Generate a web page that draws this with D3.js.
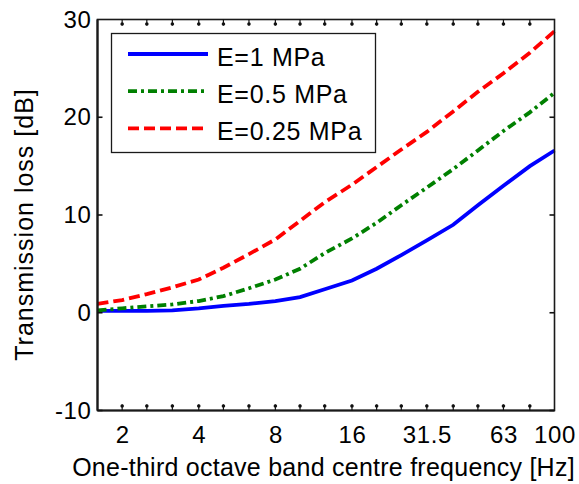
<!DOCTYPE html>
<html>
<head>
<meta charset="utf-8">
<script src="https://cdn.jsdelivr.net/npm/d3@7"></script>
<style>
  body { margin: 0; background: #fff; }
  text { font-family: "Liberation Sans", Arial, sans-serif; fill: #000; }
</style>
</head>
<body>
<div id="chart"></div>
<script>
// one-third octave band centre frequencies [Hz]
const bands = [1.6, 2, 2.5, 3.15, 4, 5, 6.3, 8, 10, 12.5, 16, 20, 25, 31.5, 40, 50, 63, 80, 100];
const xLabelTicks = [2, 4, 8, 16, 31.5, 63, 100];
const yTicks = [-10, 0, 10, 20, 30];

// transmission loss [dB]
const tlE1 = [0.2, 0.2, 0.2, 0.25, 0.45, 0.7, 0.9, 1.2, 1.6, 2.4, 3.3, 4.5, 5.9, 7.4, 9.0, 11.0, 13.0, 15.0, 16.6];
const tlE05 = [0.25, 0.45, 0.65, 0.85, 1.2, 1.7, 2.5, 3.4, 4.5, 6.1, 7.6, 9.2, 11.0, 12.8, 14.7, 16.6, 18.6, 20.5, 22.5];
const tlE025 = [0.9, 1.3, 1.9, 2.6, 3.4, 4.6, 6.0, 7.5, 9.4, 11.3, 13.1, 14.9, 16.7, 18.5, 20.6, 22.6, 24.5, 26.6, 28.8];

const seriesNames = ["E=1 MPa", "E=0.5 MPa", "E=0.25 MPa"];

const width = 579, height = 484;
const plotL = 97.5, plotR = 554.5, plotT = 19.5, plotB = 410.5;

const svg = d3.select("#chart").append("svg")
    .attr("width", width)
    .attr("height", height);

const x = d3.scaleLog().domain([1.6, 100]).range([plotL, plotR]);
const y = d3.scaleLinear().domain([-10, 30]).range([plotB, plotT]);

const series = [
    { name: seriesNames[0], values: tlE1, color: "#0000ff", dash: null },
    { name: seriesNames[1], values: tlE05, color: "#008000", dash: "9,4,3,4" },
    { name: seriesNames[2], values: tlE025, color: "#ff0000", dash: "11,5" }
];

const line = d3.line()
    .x((d, i) => x(bands[i]))
    .y(d => y(d));

// curves
svg.append("g").selectAll("path")
    .data(series)
    .enter().append("path")
    .attr("d", d => line(d.values))
    .attr("fill", "none")
    .attr("stroke", d => d.color)
    .attr("stroke-width", 3.8)
    .attr("stroke-dasharray", d => d.dash);

// bottom axis labels
const gx = svg.append("g")
    .attr("transform", `translate(0,${plotB})`)
    .call(d3.axisBottom(x)
        .tickValues(xLabelTicks)
        .tickFormat(d => String(d))
        .tickSize(0)
        .tickPadding(15));
gx.select(".domain").remove();
gx.selectAll(".tick text")
    .style("font-size", "24px")
    .style("letter-spacing", "0.6px");

// left axis labels
const gy = svg.append("g")
    .attr("transform", `translate(${plotL},0)`)
    .call(d3.axisLeft(y)
        .tickValues(yTicks)
        .tickFormat(d => String(d))
        .tickSize(0)
        .tickPadding(6));
gy.select(".domain").remove();
gy.selectAll(".tick text")
    .style("font-size", "24px")
    .style("letter-spacing", "0.6px");

// axes box
svg.append("rect")
    .attr("x", plotL).attr("y", plotT)
    .attr("width", plotR - plotL).attr("height", plotB - plotT)
    .attr("fill", "none")
    .attr("stroke", "#1a1a1a")
    .attr("stroke-width", 1.6);
svg.append("line")
    .attr("x1", plotL).attr("x2", plotL).attr("y1", plotT).attr("y2", plotB)
    .attr("stroke", "#1a1a1a").attr("stroke-width", 2.2);
svg.append("line")
    .attr("x1", plotL).attr("x2", plotR).attr("y1", plotB).attr("y2", plotB)
    .attr("stroke", "#1a1a1a").attr("stroke-width", 2.2);

// band tick marks (inward, top and bottom)
const ticks = svg.append("g").attr("fill", "#111").attr("stroke", "#111");
[[plotB, -1], [plotT, 1]].forEach(([yy, dir]) => {
    ticks.selectAll(null)
        .data(bands.slice(1, -1))
        .enter().append("line")
        .attr("x1", d => x(d)).attr("x2", d => x(d))
        .attr("y1", yy).attr("y2", yy + dir * 6)
        .attr("stroke-width", 1.2);
    ticks.selectAll(null)
        .data(bands.slice(1, -1))
        .enter().append("circle")
        .attr("cx", d => x(d))
        .attr("cy", yy + dir * 4.5)
        .attr("r", 1.8)
        .attr("stroke", "none");
});

// value ticks (inward, left and right)
[[plotL, 1], [plotR, -1]].forEach(([xx, dir]) => {
    ticks.selectAll(null)
        .data(yTicks.slice(0, -1))
        .enter().append("line")
        .attr("x1", xx).attr("x2", xx + dir * 5)
        .attr("y1", d => y(d)).attr("y2", d => y(d))
        .attr("stroke-width", 1.6);
});

// axis titles
svg.append("text")
    .attr("x", 323.5)
    .attr("y", 476)
    .attr("text-anchor", "middle")
    .style("font-size", "25px")
    .style("letter-spacing", "0.25px")
    .text("One-third octave band centre frequency [Hz]");

svg.append("text")
    .attr("transform", "translate(33,224.5) rotate(-90)")
    .attr("text-anchor", "middle")
    .style("font-size", "25px")
    .style("letter-spacing", "1px")
    .text("Transmission loss [dB]");

// legend
const legend = svg.append("g");
legend.append("rect")
    .attr("x", 111.5).attr("y", 33.5)
    .attr("width", 264).attr("height", 119)
    .attr("fill", "#fff")
    .attr("stroke", "#1a1a1a")
    .attr("stroke-width", 1.3);

const item = legend.selectAll(".item")
    .data(series)
    .enter().append("g")
    .attr("class", "item")
    .attr("transform", (d, i) => `translate(0,${54 + i * 37.2})`);

item.append("line")
    .attr("x1", 128).attr("x2", 208)
    .attr("stroke", d => d.color)
    .attr("stroke-width", 3.8)
    .attr("stroke-dasharray", d => d.dash);

item.append("text")
    .attr("x", 217)
    .attr("y", 11.5)
    .style("font-size", "25px")
    .style("letter-spacing", "0.7px")
    .text(d => d.name);
</script>
</body>
</html>
